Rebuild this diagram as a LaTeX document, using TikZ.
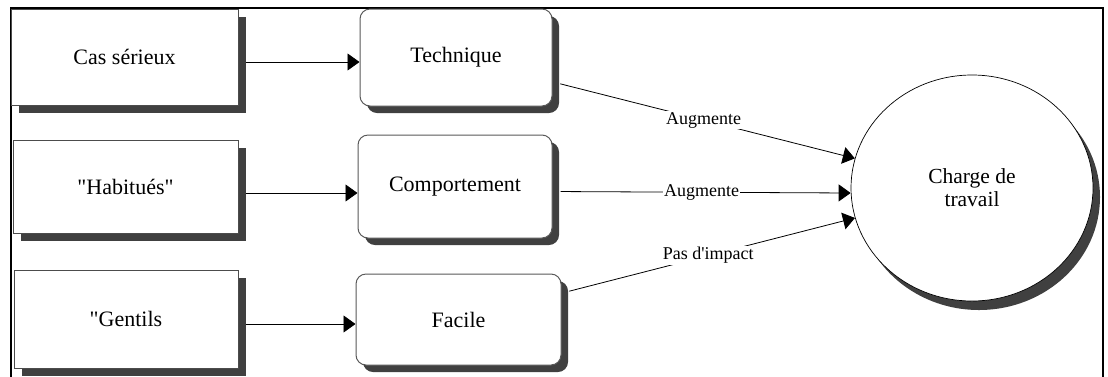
\documentclass[tikz,border=0pt]{standalone}
\usepackage{fontspec}
\setmainfont{Liberation Serif}
\usetikzlibrary{arrows.meta,shapes.geometric,shadows}
\definecolor{shade}{HTML}{404040}
\begin{document}
\begin{tikzpicture}[x=1pt,y=-1pt,
  sourcebox/.style={draw=black!70, line width=0.8pt, fill=white, rectangle,
    inner sep=0pt, font=\fontsize{22}{24}\selectfont,
    drop shadow={shadow xshift=8pt, shadow yshift=-8pt, opacity=1, fill=shade}},
  typebox/.style={draw=black!65, line width=1pt, fill=white, rectangle,
    rounded corners=10pt, inner sep=0pt, font=\fontsize{22}{24}\selectfont,
    drop shadow={shadow xshift=7pt, shadow yshift=-7pt, opacity=1, fill=shade}},
  loadnode/.style={draw=black, line width=0.7pt, fill=white, ellipse,
    inner sep=0pt, minimum width=242pt, minimum height=226pt, align=center,
    font=\fontsize{21.5}{23}\selectfont,
    drop shadow={shadow xshift=7pt, shadow yshift=-9pt, opacity=1, fill=shade}},
  arr/.style={-{Triangle[length=12pt,width=17pt]}, line width=0.8pt},
  lbl/.style={fill=white, inner sep=1pt, font=\fontsize{18}{20}\selectfont}
]
\useasboundingbox (0,0) rectangle (1108,376);

% outer frame (open at the bottom)
\draw[line width=2pt] (11,380) -- (11,7.5) -- (1103,7.5) -- (1103,380);

% sources
\node[sourcebox, minimum width=227pt, minimum height=96pt] (c1) at (124.5,57) {Cas sérieux};
\node[sourcebox, minimum width=225pt, minimum height=93pt] (c2) at (125.5,186.5) {\textquotedbl Habitués\textquotedbl};
\node[sourcebox, minimum width=224pt, minimum height=98pt] (c3) at (126,319) {\textquotedbl Gentils};

% case types
\node[typebox, minimum width=192pt, minimum height=97pt] (t1) at (456,57.5) {Technique};
\node[typebox, minimum width=194pt, minimum height=103pt] (t2) at (455,186.5) {Comportement};
\node[typebox, minimum width=205pt, minimum height=91pt] (t3) at (458.5,319.5) {Facile};

% workload
\node[loadnode] (ch) at (972,188) {Charge de\\travail};

% source -> type
\draw[arr] ([shift={(8,5)}]c1.east) -- ([shift={(0,4.5)}]t1.west);
\draw[arr] ([shift={(8,6.5)}]c2.east) -- ([shift={(0,6.5)}]t2.west);
\draw[arr] ([shift={(8,5)}]c3.east) -- ([shift={(0,4.5)}]t3.west);

% type -> workload
\draw[arr, shorten <=8pt] (t1) -- node[lbl] {Augmente} (ch);
\draw[arr, shorten <=8pt] ([yshift=-5pt]t2.east) -- node[lbl] {Augmente} ([yshift=-5pt]ch.west);
\draw[arr, shorten <=8pt] (t3) -- node[lbl] {Pas d\textquotesingle impact} (ch);
\end{tikzpicture}
\end{document}
